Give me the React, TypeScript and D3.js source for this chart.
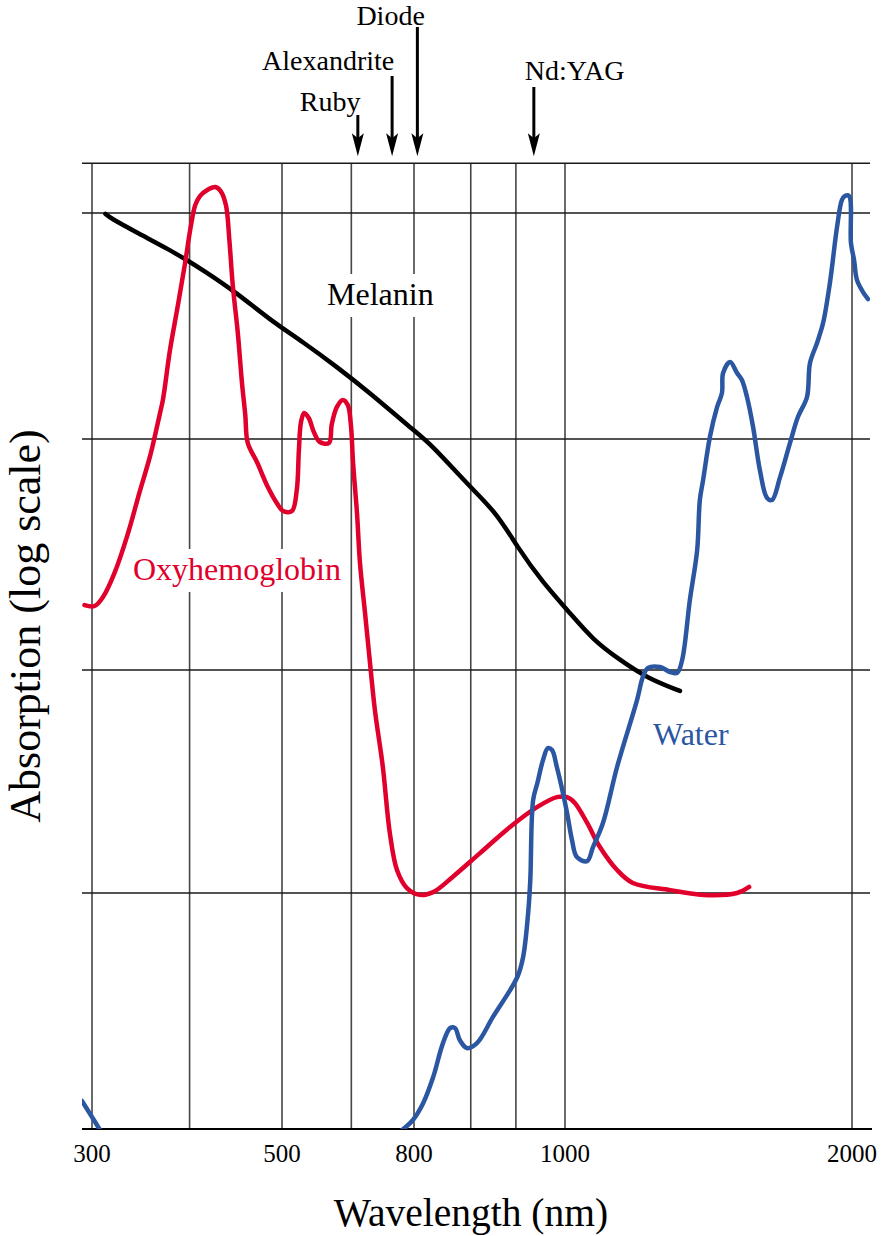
import React from "react";
import * as d3 from "d3";

// ---------- data ----------
const tickWavelengths = [300, 500, 800, 1000, 2000];
const gridWavelengths = [300, 390, 500, 640, 800, 870, 930, 1000, 2000];
// absorption in log10 units (arbitrary reference)
const gridLogAbsorption = [-3, -2, -1, 0, 0.22];
const axisLogAbsorption = -4;

const laserNames = ["Ruby", "Alexandrite", "Diode", "Nd:YAG"];
const laserWavelengths = [655, 740, 804, 955];

type Pt = [number, number];

const oxyhemoglobin: Pt[] = [
  [294, -1.719], [302, -1.723], [309, -1.684], [319, -1.576], [330, -1.416], [341, -1.229],
  [351, -1.069], [360, -0.889], [363, -0.827], [370, -0.606], [378, -0.407], [385, -0.23],
  [391, -0.066], [396, 0.035], [401, 0.075], [409, 0.102], [418, 0.115], [424, 0.097],
  [430, 0.035], [434, -0.119], [438, -0.319], [444, -0.531], [449, -0.752], [453, -0.894],
  [456, -1.017], [468, -1.104], [480, -1.199], [493, -1.277], [502, -1.312], [518, -1.312],
  [527, -1.221], [531, -1.048], [535, -0.925], [541, -0.885], [550, -0.907], [560, -0.969],
  [572, -1.013], [591, -1.017], [597, -0.934], [608, -0.858], [621, -0.827], [632, -0.85],
  [639, -0.938], [644, -1.104], [653, -1.32], [660, -1.537], [672, -1.753], [684, -1.97],
  [696, -2.179], [716, -2.435], [734, -2.731], [753, -2.897], [780, -2.978], [807, -3.008],
  [823, -2.996], [847, -2.928], [882, -2.821], [922, -2.704], [960, -2.614], [988, -2.57],
  [1005, -2.57], [1024, -2.596], [1055, -2.686], [1088, -2.794], [1134, -2.897], [1178, -2.955],
  [1289, -2.987], [1396, -3.008], [1515, -3.0], [1560, -2.973],
];

const melanin: Pt[] = [
  [311, -0.004], [315, -0.022], [339, -0.088], [370, -0.164], [387, -0.208], [404, -0.252],
  [443, -0.354], [484, -0.473], [539, -0.571], [608, -0.681], [684, -0.796], [797, -0.96],
  [819, -1.017], [869, -1.208], [904, -1.32], [932, -1.468], [968, -1.623], [1012, -1.753],
  [1070, -1.87], [1142, -1.957], [1219, -2.036], [1320, -2.094],
];

const water: (Pt | null)[] = [
  [292, -3.881], [300, -3.949], [307, -4.008],
  null,
  [764, -4.008], [797, -3.962], [811, -3.89], [823, -3.78], [835, -3.636], [844, -3.572],
  [850, -3.572], [856, -3.623], [865, -3.657], [878, -3.636], [899, -3.525], [932, -3.356],
  [940, -3.271], [947, -3.085], [950, -2.942], [954, -2.583], [960, -2.507], [968, -2.404],
  [975, -2.35], [981, -2.359], [988, -2.435], [996, -2.538], [1005, -2.641], [1017, -2.762],
  [1029, -2.839], [1055, -2.857], [1070, -2.794], [1096, -2.686], [1134, -2.435], [1190, -2.135],
  [1207, -2.031], [1222, -1.991], [1258, -1.987], [1289, -2.009], [1311, -2.013], [1327, -1.957],
  [1352, -1.697], [1376, -1.481], [1385, -1.264], [1396, -1.177], [1419, -0.991], [1444, -0.858],
  [1461, -0.796], [1465, -0.708], [1490, -0.659], [1515, -0.708], [1533, -0.739], [1552, -0.814],
  [1575, -0.947], [1601, -1.134], [1629, -1.255], [1649, -1.264], [1681, -1.165], [1722, -1.017],
  [1755, -0.903], [1794, -0.814], [1807, -0.664], [1838, -0.575], [1865, -0.487], [1896, -0.31],
  [1929, -0.062], [1952, 0.058], [1966, 0.075], [1986, 0.075], [1995, -0.133], [2010, -0.208],
  [2024, -0.296], [2054, -0.35], [2079, -0.381],
];

// ---------- layout ----------
const W = 891;
const H = 1236;
const PLOT_LEFT = 82;
const PLOT_RIGHT = 870;
const FONT = "'Liberation Serif', 'Times New Roman', 'DejaVu Serif', serif";
const RED = "#e0002b";
const BLUE = "#2b56a2";

const laserLayout = [
  { top: 115, dx: -58, baseline: 111 },
  { top: 76, dx: -130, baseline: 70 },
  { top: 27, dx: -61, baseline: 25 },
  { top: 87, dx: -9, baseline: 80 },
];

export default function App() {
  const x = d3
    .scaleLog()
    .domain(tickWavelengths)
    .range([92, 282, 414, 565, 852]);
  const y = d3
    .scaleLinear()
    .domain([-4, -3, -2, -1, 0])
    .range([1129, 893, 670, 439, 213]);

  const plotTop = y(gridLogAbsorption[gridLogAbsorption.length - 1]);
  const plotBottom = y(axisLogAbsorption);

  const line = d3
    .line<Pt | null>()
    .defined((d) => d !== null)
    .x((d) => x((d as Pt)[0]))
    .y((d) => y((d as Pt)[1]))
    .curve(d3.curveCatmullRom.alpha(0.5));

  const smoothLine = d3
    .line<Pt>()
    .x((d) => x(d[0]))
    .y((d) => y(d[1]))
    .curve(d3.curveBasis);

  const tipY = plotTop - 7;

  const curveLabels = [
    { text: "Oxyhemoglobin", color: RED, x: 133, y: 580 },
    { text: "Melanin", color: "#000", x: 327, y: 305 },
    { text: "Water", color: BLUE, x: 653, y: 745 },
  ];

  return (
    <svg
      width={W}
      height={H}
      viewBox={`0 0 ${W} ${H}`}
      style={{ position: "absolute", left: 0, top: 0, display: "block", background: "#fff" }}
      fontFamily={FONT}
    >
      <defs>
        <clipPath id="plotClip">
          <rect x={PLOT_LEFT} y={plotTop} width={PLOT_RIGHT - PLOT_LEFT} height={plotBottom - plotTop} />
        </clipPath>
      </defs>
      <rect x={0} y={0} width={W} height={H} fill="#fff" />

      {/* vertical grid */}
      {gridWavelengths.map((w, i) => (
        <line
          key={"v" + i}
          x1={x(w)}
          x2={x(w)}
          y1={plotTop}
          y2={plotBottom}
          stroke="#454545"
          strokeWidth={1.6}
        />
      ))}
      {/* horizontal grid */}
      {gridLogAbsorption.map((v, i) => (
        <line
          key={"h" + i}
          x1={PLOT_LEFT}
          x2={PLOT_RIGHT}
          y1={y(v)}
          y2={y(v)}
          stroke="#1a1a1a"
          strokeWidth={1.6}
        />
      ))}
      {/* bottom axis */}
      <line x1={PLOT_LEFT} x2={PLOT_RIGHT + 2} y1={plotBottom} y2={plotBottom} stroke="#000" strokeWidth={2} />

      {/* label backgrounds */}
      {curveLabels.map((l, i) => (
        <rect
          key={"bg" + i}
          x={l.x - 2}
          y={l.y - 31}
          width={l.text.length * 15.5}
          height={43}
          fill="#fff"
        />
      ))}

      {/* curves */}
      <g clipPath="url(#plotClip)" fill="none" strokeLinejoin="round" strokeLinecap="round">
        <path d={smoothLine(melanin) || ""} stroke="#000" strokeWidth={4.5} />
        <path d={line(oxyhemoglobin) || ""} stroke={RED} strokeWidth={4.5} />
        <path d={line(water) || ""} stroke={BLUE} strokeWidth={4.5} />
      </g>

      {/* curve labels */}
      {curveLabels.map((l, i) => (
        <text key={"cl" + i} x={l.x} y={l.y} fontSize={32} fill={l.color}>
          {l.text}
        </text>
      ))}

      {/* laser arrows */}
      {laserNames.map((name, i) => {
        const ax = x(laserWavelengths[i]);
        const L = laserLayout[i];
        return (
          <g key={"laser" + i}>
            <line x1={ax} x2={ax} y1={L.top} y2={tipY - 15} stroke="#000" strokeWidth={3} />
            <path
              d={`M${ax - 6},${tipY - 23} L${ax},${tipY} L${ax + 6},${tipY - 23} L${ax},${tipY - 18} Z`}
              fill="#000"
            />
            <text x={ax + L.dx} y={L.baseline} fontSize={28} fill="#000">
              {name}
            </text>
          </g>
        );
      })}

      {/* x tick labels */}
      {tickWavelengths.map((w) => (
        <text key={"t" + w} x={x(w)} y={1162} fontSize={25} textAnchor="middle" fill="#000">
          {w}
        </text>
      ))}

      {/* axis titles */}
      <text x={471} y={1226} fontSize={39.5} textAnchor="middle" fill="#000">
        Wavelength (nm)
      </text>
      <text
        transform="translate(40,626) rotate(-90)"
        fontSize={44}
        textAnchor="middle"
        fill="#000"
      >
        Absorption (log scale)
      </text>
    </svg>
  );
}
